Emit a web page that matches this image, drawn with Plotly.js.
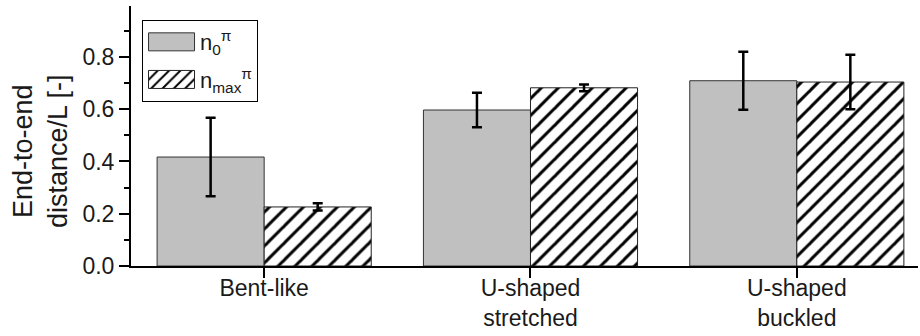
<!DOCTYPE html>
<html><head><meta charset="utf-8">
<script src="https://cdn.plot.ly/plotly-3.0.1.min.js"></script>
<style>html,body{margin:0;padding:0;background:#fff}</style>
</head><body><div id="chart" style="width:920px;height:336px"></div>
<script>
const categories = ['Bent-like', 'U-shaped<br>stretched', 'U-shaped<br>buckled'];
const seriesNames = ['n<sub>0</sub><sup>π</sup>', 'n<sub>max</sub><sup>π</sup>'];
const n0Values = [0.417, 0.597, 0.709];
const n0Errors = [0.150, 0.066, 0.111];
const nmaxValues = [0.226, 0.682, 0.704];
const nmaxErrors = [0.014, 0.013, 0.104];
const yTickVals = [0, 0.2, 0.4, 0.6, 0.8];
const yTickText = ['0.0', '0.2', '0.4', '0.6', '0.8'];
const yTitleText = 'End-to-end<br>distance/L [-]';

const FONT = "'Liberation Sans', Arial, sans-serif";
const TXT = '#1a1a1a';

const traces = [
  {
    type: 'bar', name: seriesNames[0], x: categories, y: n0Values, legendgroup: 'g0',
    marker: {color: '#c0c0c0', line: {color: '#333', width: 1}},
    error_y: {type: 'data', array: n0Errors, visible: true, color: '#000', thickness: 2.5, width: 5}
  },
  {
    type: 'bar', name: seriesNames[1], x: categories, y: nmaxValues, legendgroup: 'g1',
    marker: {color: '#ffffff', line: {color: '#222', width: 1},
      pattern: {shape: '/', size: 12, solidity: 0.25, fgcolor: '#000', bgcolor: '#fff', fillmode: 'replace'}},
    error_y: {type: 'data', array: nmaxErrors, visible: true, color: '#000', thickness: 2.5, width: 5}
  }
];

const layout = {
  width: 920, height: 336,
  margin: {l: 131, r: 2, t: 6, b: 70, pad: 0},
  paper_bgcolor: '#fff', plot_bgcolor: '#fff',
  font: {family: FONT, color: TXT, size: 23},
  barmode: 'group', bargap: 0.196, bargroupgap: 0,
  showlegend: true,
  legend: {
    x: 0.014, y: 0.946, xanchor: 'left', yanchor: 'top',
    bgcolor: '#fff', bordercolor: '#000', borderwidth: 1,
    font: {family: FONT, size: 22, color: TXT},
    itemwidth: 47, traceorder: 'grouped', tracegroupgap: 6
  },
  xaxis: {
    type: 'category', range: [-0.5, 2.455],
    showline: true, linecolor: '#000', linewidth: 2,
    ticks: 'outside', ticklen: 10, tickwidth: 2, tickcolor: '#000',
    ticklabelstandoff: -10,
    tickfont: {family: FONT, size: 23, color: TXT},
    showgrid: false, zeroline: false, fixedrange: true
  },
  yaxis: {
    range: [0, 0.995],
    tickvals: yTickVals, ticktext: yTickText,
    showline: true, linecolor: '#000', linewidth: 2,
    ticks: 'outside', ticklen: 10, tickwidth: 2, tickcolor: '#000',
    minor: {dtick: 0.1, ticks: 'outside', ticklen: 5, tickwidth: 2, tickcolor: '#000', showgrid: false},
    tickfont: {family: FONT, size: 23, color: TXT},
    showgrid: false, zeroline: false, fixedrange: true
  },
  annotations: [{
    text: yTitleText, textangle: -90,
    xref: 'paper', yref: 'paper', x: 0, y: 0.442,
    xanchor: 'center', yanchor: 'middle', xshift: -91,
    showarrow: false, font: {family: FONT, size: 27, color: TXT}
  }]
};

function enlargeLegendSwatches(gd) {
  const bgEl = gd.querySelector('.legend .bg');
  if (!bgEl) return;
  const bg = bgEl.getBoundingClientRect();
  gd.querySelectorAll('.legend .legendpoints path').forEach(function (p) {
    p.setAttribute('d', 'M23,9H-23V-9H23Z');
    const r = p.getBoundingClientRect();
    const dx = (bg.left + 6) - r.left;
    const m = /translate\(\s*([-\d.e]+)[\s,]*([-\d.e]*)\s*\)/.exec(p.getAttribute('transform') || '');
    const tx = m ? parseFloat(m[1]) : 0;
    const ty = (m && m[2]) ? parseFloat(m[2]) : 0;
    p.setAttribute('transform', 'translate(' + (tx + dx) + ',' + ty + ')');
  });
}

Plotly.newPlot('chart', traces, layout, {staticPlot: true, displayModeBar: false}).then(function (gd) {
  enlargeLegendSwatches(gd);
});
</script>
</body></html>
